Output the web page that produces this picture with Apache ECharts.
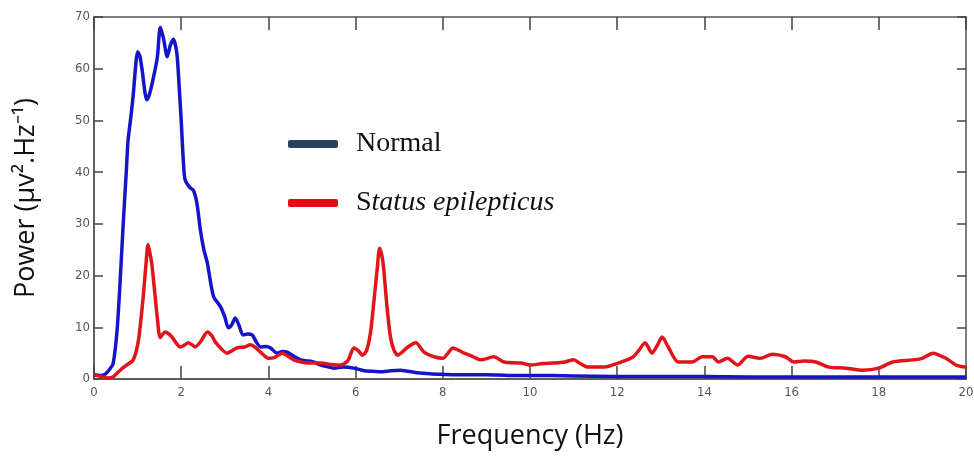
<!DOCTYPE html>
<html>
<head>
<meta charset="utf-8">
<script src="https://cdn.jsdelivr.net/npm/echarts@6/dist/echarts.min.js"></script>
<style>
  html, body { margin: 0; padding: 0; background: #fff; }
  #chart { width: 974px; height: 457px; }
</style>
</head>
<body>
<div id="chart"></div>
<script>
// x tick labels (Hz)
var xTicks = [0, 2, 4, 6, 8, 10, 12, 14, 16, 18, 20]
var yTicks = [0, 10, 20, 30, 40, 50, 60, 70]

// Normal
var normalFreq = [0, 0.15, 0.25, 0.35, 0.44, 0.53, 0.6, 0.67, 0.74, 0.78, 0.85, 0.9, 0.96, 1.0, 1.05, 1.1, 1.21, 1.27, 1.33, 1.45,
  1.52, 1.59, 1.68, 1.75, 1.82, 1.9, 1.95, 2.0, 2.05, 2.09, 2.2, 2.28, 2.36, 2.44, 2.52, 2.6, 2.74, 2.9, 3.0, 3.08,
  3.16, 3.24, 3.32, 3.42, 3.52, 3.63, 3.72, 3.82, 3.95, 4.05, 4.2, 4.32, 4.43, 4.6, 4.74, 4.9, 5.03, 5.2, 5.35, 5.5,
  5.72, 5.96, 6.2, 6.4, 6.57, 6.8, 7.03, 7.2, 7.42, 7.7, 8.0, 8.5, 9, 9.5, 10, 11, 12, 13, 14, 15,
  16, 17, 18, 19, 20]
var normalPower = [0.8, 0.7, 0.9, 1.8, 3, 9.5, 19, 30, 40, 46, 51, 55, 61, 63.3, 62.5, 60, 54, 55, 57, 62,
  68, 66, 62.3, 64.5, 65.7, 63, 57, 50, 42, 38.5, 37, 36.5, 34, 28.8, 25, 22.4, 16, 14, 12, 9.9,
  10.5, 11.8, 10.5, 8.5, 8.7, 8.5, 7.2, 6.2, 6.3, 6, 5, 5.3, 5.2, 4.3, 3.7, 3.5, 3.3, 2.7, 2.4, 2.1,
  2.3, 2.1, 1.6, 1.5, 1.4, 1.6, 1.7, 1.5, 1.2, 1.0, 0.9, 0.8, 0.8, 0.7, 0.7, 0.6, 0.5, 0.5, 0.5, 0.4,
  0.4, 0.4, 0.4, 0.4, 0.4]

// Status epilepticus
var epiFreq = [0, 0.15, 0.33, 0.45, 0.6, 0.75, 0.9, 1.01, 1.07, 1.13, 1.19, 1.24, 1.29, 1.33, 1.39, 1.45, 1.52, 1.63, 1.72, 1.79,
  1.9, 1.98, 2.08, 2.16, 2.25, 2.32, 2.45, 2.6, 2.7, 2.78, 2.9, 3.05, 3.15, 3.28, 3.45, 3.59, 3.7, 3.82, 4.0, 4.15,
  4.32, 4.45, 4.58, 4.75, 4.9, 5.2, 5.45, 5.66, 5.82, 5.96, 6.06, 6.16, 6.25, 6.34, 6.42, 6.5, 6.55, 6.6, 6.64, 6.72,
  6.8, 6.88, 6.97, 7.08, 7.2, 7.38, 7.57, 7.8, 8.0, 8.12, 8.23, 8.49, 8.7, 8.87, 9.17, 9.4, 9.79, 10.0, 10.3, 10.55,
  10.8, 11.0, 11.15, 11.33, 11.7, 12.1, 12.37, 12.5, 12.64, 12.8, 12.92, 13.03, 13.17, 13.4, 13.72, 13.95, 14.18, 14.32, 14.53, 14.76,
  15.0, 15.28, 15.56, 15.86, 16.05, 16.28, 16.55, 16.85, 17.24, 17.63, 18.0, 18.32, 18.78, 19.0, 19.24, 19.54, 19.77, 20]
var epiPower = [0.8, 0.5, 0.2, 0.5, 1.7, 2.7, 3.7, 7, 11, 16, 22, 26, 24, 22, 17, 12, 8, 9.1, 8.7, 8.1,
  6.8, 6.2, 6.6, 7, 6.6, 6.2, 7.3, 9.1, 8.4, 7.2, 6, 5, 5.4, 6, 6.2, 6.6, 6.1, 5.2, 4, 4.2,
  5, 4.4, 3.7, 3.3, 3.1, 3.1, 2.8, 2.7, 3.5, 6, 5.5, 4.6, 5.5, 8.9, 15, 21.7, 25.3, 24, 21.7, 14,
  8.1, 5.6, 4.6, 5.3, 6.2, 7, 5.2, 4.3, 4, 5, 6, 5, 4.3, 3.7, 4.3, 3.3, 3.1, 2.7, 3, 3.1,
  3.3, 3.7, 3.0, 2.3, 2.3, 3.3, 4.3, 5.6, 7, 5, 6.5, 8.1, 6.2, 3.3, 3.3, 4.3, 4.3, 3.3, 4, 2.7,
  4.4, 4, 4.8, 4.3, 3.3, 3.5, 3.3, 2.3, 2.1, 1.7, 2.1, 3.3, 3.7, 4, 5, 4, 2.7, 2.3]

function pairs (xs, ys) {
  return xs.map(function (x, i) { return [x, ys[i]] })
}

var tickFont = '"Liberation Sans Narrow", "DejaVu Sans Condensed", sans-serif'
var axisGray = '#555'
var tickStyle = { color: '#444', width: 1.5 }
var gridBox = { left: 94, right: 8, top: 17, bottom: 78 }
var plotW = 974 - gridBox.left - gridBox.right
var plotH = 457 - gridBox.top - gridBox.bottom

// bare axis used only for the frame and its ticks
function frameAxis (pos, max, len, offset, inside) {
  return {
    type: 'value', min: 0, max: max, interval: max === 20 ? 2 : 10, position: pos, offset: offset,
    axisLine: { show: true, onZero: false, lineStyle: { color: axisGray, width: 1.5 } },
    axisTick: { show: true, inside: inside, length: len, lineStyle: tickStyle },
    axisLabel: { show: false },
    splitLine: { show: false }
  }
}

var myChart = echarts.init(document.getElementById('chart'))
myChart.setOption({
  backgroundColor: '#fff',
  animation: false,
  grid: { left: gridBox.left, right: gridBox.right, top: gridBox.top, bottom: gridBox.bottom, outerBoundsMode: 'none', containLabel: false },
  legend: [
    {
      data: [{ name: 'Normal', itemStyle: { color: '#2c4263' } }],
      left: 283, top: 125, orient: 'vertical',
      icon: 'roundRect', itemWidth: 50, itemHeight: 8,
      textStyle: { fontFamily: '"Liberation Serif", serif', fontSize: 28, color: '#111', padding: [0, 0, 0, 13] }
    },
    {
      data: [{ name: 'Status epilepticus', itemStyle: { color: '#ec0a12' } }],
      left: 283, top: 184, orient: 'vertical',
      icon: 'roundRect', itemWidth: 50, itemHeight: 8,
      formatter: function () { return '{n|S}{i|tatus epilepticus}' },
      textStyle: {
        fontFamily: '"Liberation Serif", serif', fontSize: 28, color: '#111', padding: [0, 0, 0, 13],
        rich: {
          n: { fontFamily: '"Liberation Serif", serif', fontSize: 28, color: '#111' },
          i: { fontFamily: '"Liberation Serif", serif', fontSize: 28, fontStyle: 'italic', color: '#111' }
        }
      }
    }
  ],
  xAxis: [
    {
      type: 'value', min: 0, max: 20, interval: 2,
      name: 'Frequency (Hz)', nameLocation: 'middle', nameGap: 44,
      nameTextStyle: { fontFamily: '"Open Sans", sans-serif', fontSize: 27, color: '#111' },
      axisLine: { onZero: false, lineStyle: { color: axisGray, width: 1.5 } },
      axisTick: { show: false },
      axisLabel: { fontFamily: tickFont, fontSize: 13, color: axisGray, margin: 7 },
      splitLine: { show: false }
    },
    frameAxis('top', 20, 13, 0, true),
    // top-type axis pushed down onto the bottom edge, ticks pointing up
    frameAxis('top', 20, 13, -plotH, false)
  ],
  yAxis: [
    {
      type: 'value', min: 0, max: 70, interval: 10,
      name: 'Power (μv².Hz⁻¹)', nameLocation: 'middle', nameGap: 54,
      nameTextStyle: { fontFamily: '"Open Sans", sans-serif', fontSize: 27, color: '#111' },
      axisLine: { show: true, onZero: false, lineStyle: { color: axisGray, width: 1.5 } },
      axisTick: { show: false },
      axisLabel: { fontFamily: tickFont, fontSize: 13, color: axisGray, margin: 4 },
      splitLine: { show: false }
    },
    frameAxis('right', 70, 9, 0, true),
    // right-type axis pulled onto the left edge, ticks pointing right
    frameAxis('right', 70, 9, -plotW, false)
  ],
  series: [
    {
      name: 'Normal',
      type: 'line',
      smooth: 0.25,
      showSymbol: false,
      data: pairs(normalFreq, normalPower),
      lineStyle: { color: '#1414c8', width: 3.5 },
      itemStyle: { color: '#1414c8' },
      z: 2
    },
    {
      name: 'Status epilepticus',
      type: 'line',
      smooth: 0.25,
      showSymbol: false,
      data: pairs(epiFreq, epiPower),
      lineStyle: { color: '#e0141a', width: 3.5 },
      itemStyle: { color: '#e0141a' },
      z: 3
    }
  ]
})
</script>
</body>
</html>
